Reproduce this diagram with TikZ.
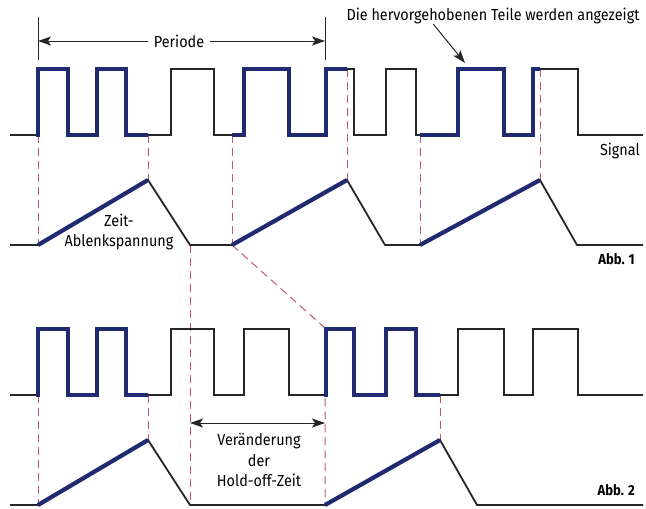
\documentclass[tikz,border=0pt]{standalone}
\usepackage{fontspec}
\setmainfont{Fira Sans}[FakeStretch=0.9]
\usetikzlibrary{arrows.meta}
\definecolor{hlblue}{RGB}{32,42,112}
\definecolor{guidered}{RGB}{190,88,110}
\tikzset{
  train/.pic={
    \draw[pic actions] (10,135) foreach \r/\f in {38/68,97/126,171/214,244/289,326/354,386/416,458/504,533/578}
      { -- (\r,135) -- (\r,69) -- (\f,69) -- (\f,135) } -- (643,135);
  }
}
\begin{document}
\begin{tikzpicture}[x=1pt, y=-1pt, line join=miter,
    every node/.style={inner sep=0pt, font=\fontsize{16}{20.5}\selectfont},
    sig/.style={line width=1.8pt, black!85},
    hl/.style={line width=4.2pt, hlblue},
    guide/.style={guidered, line width=1pt, dash pattern=on 8pt off 5pt},
    dim/.style={line width=1pt, black!85},
    abb/.style={anchor=east, font=\fontsize{14.5}{16}\selectfont\bfseries},
    >={Stealth[length=13pt, width=9pt, inset=3pt]}]
    \useasboundingbox (0,0) rectangle (646,509);

    % levels of the two signals
    \coordinate (loA) at (0,135);
    \coordinate (hiA) at (0,69);
    \coordinate (loB) at (0,395);
    \coordinate (hiB) at (0,328);

    % sweep voltage, Abb. 1 and Abb. 2
    \foreach \n/\x/\y in {0/10/245,1/38/245,2/148/180,3/190/245,4/232/245,5/347/180,6/385/245,7/420/245,8/540/180,9/577/245,10/643/245}
        \coordinate (a\n) at (\x,\y);
    \foreach \n/\x/\y in {0/10/505,1/38/505,2/148/440,3/190/505,4/325/505,5/440/440,6/477/505,7/643/505}
        \coordinate (b\n) at (\x,\y);

    % dashed guides
    \draw[guide] (a1 |- loA) -- (a1);
    \draw[guide] (a2 |- loA) -- (a2);
    \draw[guide] (a4 |- loA) -- (a4);
    \draw[guide] (a5 |- hiA) -- (a5);
    \draw[guide] (a7 |- loA) -- (a7);
    \draw[guide] (a8 |- hiA) -- (a8);
    \draw[guide] (a3) -- (b3);
    \draw[guide] (a4) -- (b4 |- hiB) -- (b4);
    \draw[guide] (b1 |- loB) -- (b1);
    \draw[guide] (b2 |- loB) -- (b2);
    \draw[guide] (b5 |- loB) -- (b5);

    % signals
    \foreach \dy in {0,260}
        \pic[sig] at (0,\dy) {train};
    \foreach \a/\b/\dy in {36/148/0,232/347/0,420/540/0,36/148/260,324/440/260} {
        \begin{scope}
            \clip (\a,0) rectangle (\b,509);
            \pic[hl] at (0,\dy) {train};
        \end{scope}
    }

    % ramps
    \draw[sig] (a0) -- (a1) -- (a2) -- (a3) -- (a4) -- (a5) -- (a6) -- (a7) -- (a8) -- (a9) -- (a10);
    \draw[hl] (a1) -- (a2) (a4) -- (a5) (a7) -- (a8);
    \draw[sig] (b0) -- (b1) -- (b2) -- (b3) -- (b4) -- (b5) -- (b6) -- (b7);
    \draw[hl] (b1) -- (b2) (b4) -- (b5);

    % period
    \coordinate (pl) at (38,41);
    \coordinate (pr) at (325,41);
    \draw[dim] (38,17) -- (38,60) (325,17) -- (325,60);
    \node[inner xsep=6pt] (periode) at (179,41) {Periode};
    \draw[dim, ->] (periode) -- (pl);
    \draw[dim, ->] (periode) -- (pr);

    % hold-off
    \coordinate (hol) at (190,423);
    \coordinate (hor) at (325,423);
    \draw[dim, <->] (hol) -- (hor);
    \node[align=center] (holdoff) at (259,460) {Veränderung\\der\\Hold-off-Zeit};

    % labels
    \node (note) at (493,16) {Die hervorgehobenen Teile werden angezeigt};
    \coordinate (notetip) at (465,63);
    \draw[dim, ->] ([xshift=87pt]note.south west) -- (notetip);
    \node[align=center] (zeit) at (119,232) {Zeit-\\Ablenkspannung};
    \node[anchor=east] (signal) at (640,151) {Signal};
    \node[abb] (abb1) at (635,259) {Abb. 1};
    \node[abb] (abb2) at (635,490) {Abb. 2};
\end{tikzpicture}
\end{document}
